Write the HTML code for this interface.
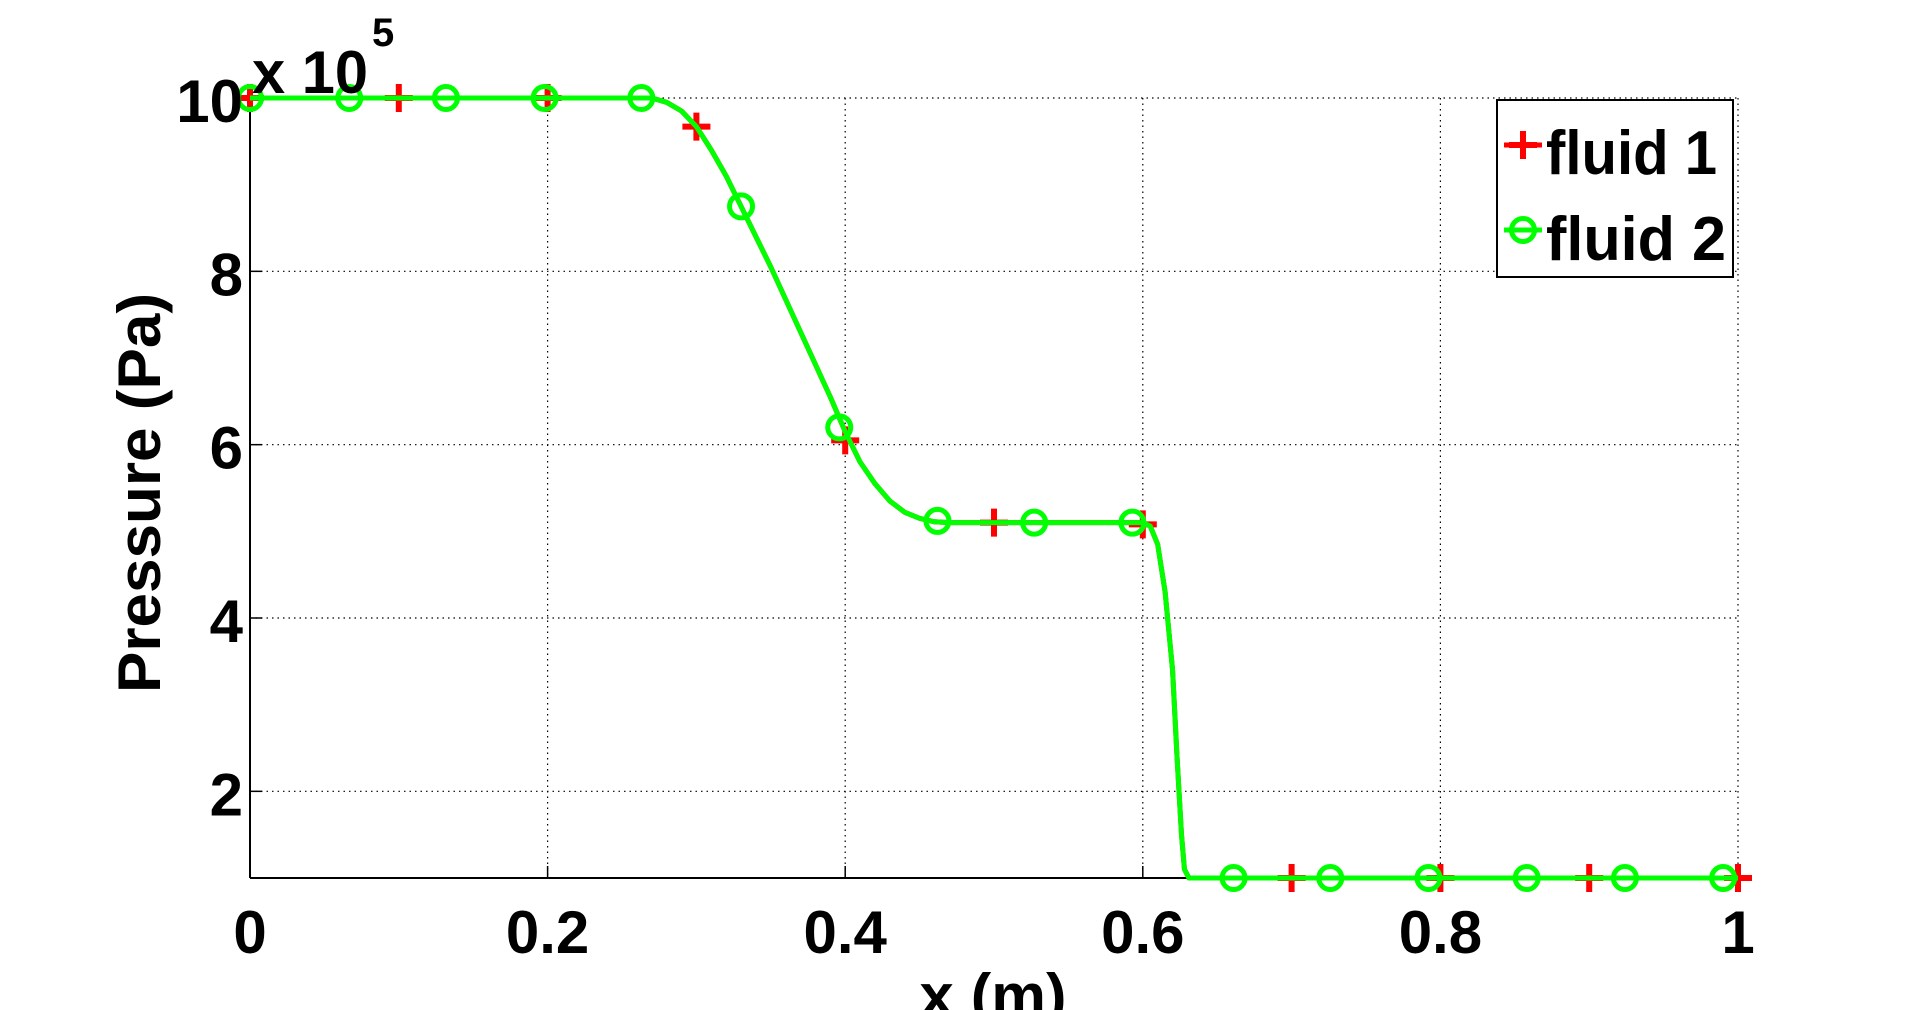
<!DOCTYPE html>
<html><head><meta charset="utf-8"><style>
html,body{margin:0;padding:0;background:#fff;width:1920px;height:1010px;overflow:hidden}
svg{display:block}
text{font-family:"Liberation Sans",Arial,sans-serif;font-weight:bold;fill:#000}
</style></head><body>
<svg id="chart" width="1920" height="1010" viewBox="0 0 1920 1010" xmlns="http://www.w3.org/2000/svg">
<g id="grid"></g>
<g id="axes"></g>
<g id="series"></g>
<g id="labels"></g>
<g id="legend"></g>
</svg>
<script>
const xTicks=[0,0.2,0.4,0.6,0.8,1];
const xTickLabels=["0","0.2","0.4","0.6","0.8","1"];
const yTicks=[2,4,6,8,10];
const yTickLabels=["2","4","6","8","10"];
const curveX=[0,0.25,0.27,0.28,0.29,0.30,0.31,0.32,0.33,0.35,0.37,0.39,0.40,0.41,0.42,0.43,0.44,0.45,0.46,0.47,0.50,0.60,0.605,0.61,0.615,0.62,0.623,0.626,0.628,0.631,0.65,0.8,1.0];
const curveP=[10,10,10,9.95,9.85,9.67,9.4,9.1,8.75,8.05,7.3,6.55,6.15,5.8,5.55,5.35,5.22,5.15,5.11,5.1,5.1,5.1,5.06,4.85,4.3,3.4,2.4,1.5,1.1,1.0,1.0,1.0,1.0];
const fluid1X=[0,0.1,0.2,0.3,0.4,0.5,0.6,0.7,0.8,0.9,1.0];
const fluid1P=[10,10,10,9.67,6.05,5.1,5.08,1,1,1,1];
const fluid2X=[0,0.0667,0.1317,0.198,0.263,0.33,0.396,0.462,0.527,0.593,0.661,0.726,0.792,0.858,0.924,0.99];
const fluid2P=[10,10,10,10,10,8.75,6.2,5.12,5.1,5.1,1,1,1,1,1,1];

const L=250,R=1738,T=98,B=878;
const X=v=>L+(v-0)/(1-0)*(R-L);
const Y=p=>B-(p-1)/(10-1)*(B-T);
const NS="http://www.w3.org/2000/svg";
function mk(tag,attrs,parent){const e=document.createElementNS(NS,tag);for(const k in attrs)e.setAttribute(k,attrs[k]);parent.appendChild(e);return e;}
const grid=document.getElementById('grid'),axes=document.getElementById('axes'),series=document.getElementById('series'),labels=document.getElementById('labels'),legend=document.getElementById('legend');

xTicks.forEach((v,i)=>{
  if(v>0){const g=mk('line',{x1:X(v),y1:T,x2:X(v),y2:B,stroke:'#000','stroke-width':1.2,'stroke-dasharray':'1.5 4'},grid);
  
  }
  const tk=mk('line',{x1:X(v),y1:B,x2:X(v),y2:B-12,stroke:'#000','stroke-width':1.5},axes);
  
  
  const t=mk('text',{x:X(v),y:953,'text-anchor':'middle','font-size':60},labels);
  t.textContent=xTickLabels[i];
  
  
});
yTicks.forEach((p,i)=>{
  const g=mk('line',{x1:L,y1:Y(p),x2:R,y2:Y(p),stroke:'#000','stroke-width':1.2,'stroke-dasharray':'1.5 4'},grid);
  
  
  const tk=mk('line',{x1:L,y1:Y(p),x2:L+12,y2:Y(p),stroke:'#000','stroke-width':1.5},axes);
  
  
  const t=mk('text',{x:243,y:Y(p)+24,'text-anchor':'end','font-size':60},labels);
  t.textContent=yTickLabels[i];
  
  
});
const xa=mk('line',{x1:L,y1:B,x2:R,y2:B,stroke:'#000','stroke-width':2},axes);


const ya=mk('line',{x1:L,y1:T,x2:L,y2:B,stroke:'#000','stroke-width':2},axes);



const pts=curveX.map((v,i)=>X(v)+','+Y(curveP[i])).join(' ');
const l1=mk('polyline',{points:pts,fill:'none',stroke:'#ff0000','stroke-width':5,'stroke-linejoin':'round'},series);


fluid1X.forEach((v,i)=>{
  const cx=X(v),cy=Y(fluid1P[i]);
  const p=mk('path',{d:`M${cx-14},${cy}H${cx+14}M${cx},${cy-14}V${cy+14}`,stroke:'#ff0000','stroke-width':6,fill:'none'},series);
  
  
});
const l2=mk('polyline',{points:pts,fill:'none',stroke:'#00ff00','stroke-width':5,'stroke-linejoin':'round'},series);


fluid2X.forEach((v,i)=>{
  const c=mk('circle',{cx:X(v),cy:Y(fluid2P[i]),r:11.5,fill:'none',stroke:'#00ff00','stroke-width':5},series);
  
  
});
</script>
<svg style="position:absolute;left:0;top:0" width="1920" height="1010">
<text x="252" y="93" font-size="60" textLength="116" lengthAdjust="spacingAndGlyphs">x 10</text>
<text x="372" y="46" font-size="40">5</text>
<text transform="translate(160,493) rotate(-90)" text-anchor="middle" font-size="60" textLength="400" lengthAdjust="spacingAndGlyphs">Pressure (Pa)</text>
<text x="993" y="1016" text-anchor="middle" font-size="60" textLength="147" lengthAdjust="spacingAndGlyphs">x (m)</text>
<g>
<rect x="1497" y="100" width="236" height="177" fill="#fff" stroke="#000" stroke-width="2"/>
<g>
<line x1="1504" y1="145" x2="1542" y2="145" stroke="#ff0000" stroke-width="5"/>
<path d="M1509,145H1537M1523,131V159" stroke="#ff0000" stroke-width="6"/>
<text x="1546" y="174" font-size="62" textLength="171" lengthAdjust="spacingAndGlyphs">fluid 1</text>
</g>
<g>
<line x1="1504" y1="230" x2="1542" y2="230" stroke="#00ff00" stroke-width="5"/>
<circle cx="1523" cy="230" r="11.5" fill="none" stroke="#00ff00" stroke-width="5"/>
<text x="1546" y="260" font-size="62" textLength="180" lengthAdjust="spacingAndGlyphs">fluid 2</text>
</g>
</g>
</svg>
</body></html>
